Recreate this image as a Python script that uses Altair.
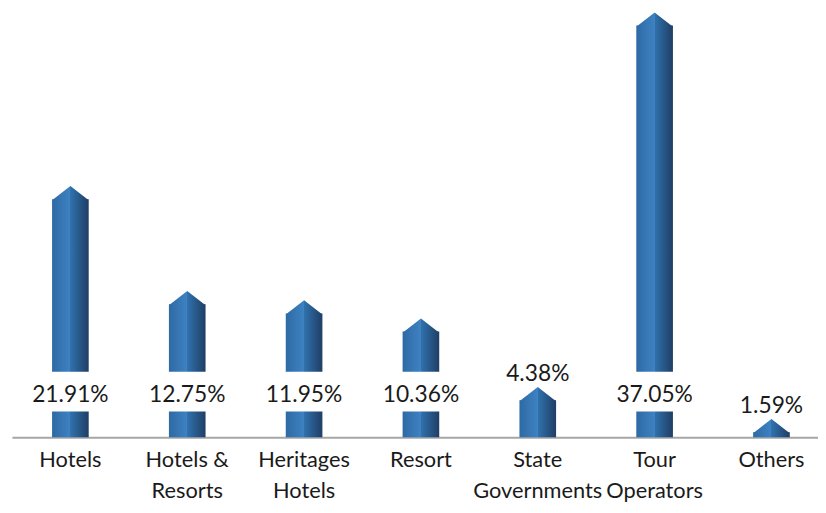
import altair as alt
import pandas as pd

categories = ["Hotels", "Hotels &|Resorts", "Heritages|Hotels", "Resort",
              "State|Governments", "Tour|Operators", "Others"]
shares = [21.91, 12.75, 11.95, 10.36, 4.38, 37.05, 1.59]

FONT = "Lato, Roboto, sans-serif"
TEXT_COLOR = "#1a1a1a"

df = pd.DataFrame({"cat": categories, "share": shares})

grad = {
    "gradient": "linear", "x1": 0, "x2": 1, "y1": 0, "y2": 0,
    "stops": [
        {"offset": 0, "color": "#2e6aa4"},
        {"offset": 0.5, "color": "#3e82c2"},
        {"offset": 0.5, "color": "#3072ad"},
        {"offset": 1, "color": "#1f3e65"},
    ],
}

xenc = alt.X(
    "cat:N", sort=None,
    scale=alt.Scale(range=[1, 827], paddingInner=0, paddingOuter=0),
    axis=alt.Axis(
        title=None, labelAngle=0, ticks=False, tickSize=0,
        domainColor="#a6a6a6", domainWidth=2,
        labelFont=FONT, labelFontSize=22, labelColor=TEXT_COLOR,
        labelPadding=13, labelLineHeight=31, labelOverlap=False,
        labelLimit=0, labelBound=False,
        labelExpr="split(datum.label, '|')",
    ),
)
yscale = alt.Scale(domain=[0, 37.05], nice=False, zero=True)

base = alt.Chart(df).transform_calculate(
    shoulder="datum.share - 1.15",
    label="format(datum.share, '.2f') + '%'",
)

bars = base.mark_bar(size=37, color=grad).encode(
    x=xenc, y=alt.Y("shoulder:Q", scale=yscale, axis=None)
)

tips = base.mark_point(
    shape="M-1,0.06L0,-0.72L1,0.06Z", size=1369, filled=True,
    fill=grad, strokeWidth=0, opacity=1,
).encode(x=xenc, y=alt.Y("shoulder:Q", scale=yscale, axis=None))

gaps = base.transform_filter("datum.share >= 8").mark_bar(
    size=44, color="white"
).encode(x=xenc, y=alt.value(363), y2=alt.value(403))

inner_text = base.transform_filter("datum.share >= 8").mark_text(
    font=FONT, fontSize=23, color=TEXT_COLOR, baseline="alphabetic"
).encode(x=xenc, y=alt.value(393), text="label:N")

outer_text = base.transform_filter("datum.share < 8").mark_text(
    font=FONT, fontSize=23, color=TEXT_COLOR, baseline="alphabetic", dy=-6
).encode(x=xenc, y=alt.Y("share:Q", scale=yscale, axis=None), text="label:N")

chart = alt.layer(bars, tips, gaps, inner_text, outer_text).properties(
    width=815, height=429,
    padding={"left": 3, "top": 2, "right": 0, "bottom": 66},
    autosize=alt.AutoSizeParams(type="none"),
).configure_view(stroke=None)

chart.save("out.html", embed_options={"renderer": "svg", "actions": False})
